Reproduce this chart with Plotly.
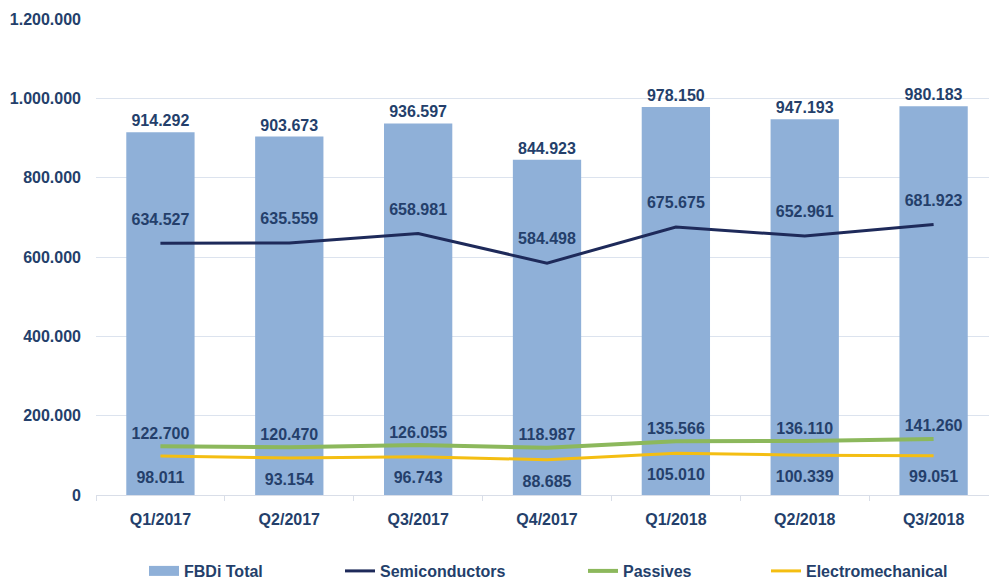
import plotly.graph_objects as go

quarters = ["Q1/2017", "Q2/2017", "Q3/2017", "Q4/2017", "Q1/2018", "Q2/2018", "Q3/2018"]
fbdi_total = [914292, 903673, 936597, 844923, 978150, 947193, 980183]
semiconductors = [634527, 635559, 658981, 584498, 675675, 652961, 681923]
passives = [122700, 120470, 126055, 118987, 135566, 136110, 141260]
electromechanical = [98011, 93154, 96743, 88685, 105010, 100339, 99051]
y_ticks = [0, 200000, 400000, 600000, 800000, 1000000, 1200000]

TXT = "#243F6B"
FONT = "Liberation Sans, Arial, sans-serif"
BAR = "#8FB0D8"
SEMI = "#1E2A5A"
PAS = "#8CB85C"
ELE = "#F4BE12"
tf = dict(family=FONT, size=16, color=TXT, weight="bold")

fig = go.Figure()
fig.add_trace(go.Bar(
    x=quarters, y=fbdi_total, name="FBDi Total", marker=dict(color=BAR, line=dict(width=0)),
    width=0.53, texttemplate="%{y:,.0f}", textposition="outside",
    textfont=tf, cliponaxis=False, showlegend=False, legendgroup="fbdi"))
fig.add_trace(go.Scatter(
    x=[None], y=[None], mode="lines", name="FBDi Total", legendgroup="fbdi",
    line=dict(color=BAR, width=10), legend="legend"))

# lines
fig.add_trace(go.Scatter(x=quarters, y=semiconductors, name="Semiconductors", mode="lines",
                         line=dict(color=SEMI, width=3), legend="legend2", legendgroup="semi"))
fig.add_trace(go.Scatter(x=quarters, y=passives, name="Passives", mode="lines",
                         line=dict(color=PAS, width=4), legend="legend3", legendgroup="pas"))
fig.add_trace(go.Scatter(x=quarters, y=electromechanical, name="Electromechanical", mode="lines",
                         line=dict(color=ELE, width=3), legend="legend4", legendgroup="ele"))

# value labels for the lines
for vals, pos, msize, grp in [(semiconductors, "top center", 22, "semi"),
                              (passives, "top center", 4, "pas"),
                              (electromechanical, "bottom center", 22, "ele")]:
    fig.add_trace(go.Scatter(
        x=quarters, y=vals, mode="markers+text", marker=dict(size=msize, opacity=0),
        texttemplate="%{y:,.0f}", textposition=pos, textfont=tf,
        showlegend=False, legendgroup=grp, hoverinfo="skip"))

leg_common = dict(orientation="h", xref="container", yref="container", yanchor="middle",
                  y=1 - 571 / 581, xanchor="left", bgcolor="rgba(0,0,0,0)",
                  font=dict(family=FONT, size=16, color=TXT, weight="bold"), borderwidth=0)

fig.update_layout(
    width=989, height=581,
    margin=dict(l=96, r=0, t=19, b=86, autoexpand=False),
    paper_bgcolor="white", plot_bgcolor="white",
    separators=",.",
    font=dict(family=FONT, size=16, color=TXT),
    legend=dict(x=(186 - 42) / 989, **leg_common),
    legend2=dict(x=(382 - 42) / 989, **leg_common),
    legend3=dict(x=(625 - 42) / 989, **leg_common),
    legend4=dict(x=(808 - 42) / 989, **leg_common),
    xaxis=dict(type="category", range=[-0.5, 6.43], showgrid=False,
               showline=True, linecolor="#D9DEE8", linewidth=1,
               ticks="outside", tickson="boundaries", ticklen=5, tickcolor="#D9DEE8",
               tickfont=dict(family=FONT, size=16, color=TXT, weight="bold"), ticklabelstandoff=10),
    yaxis=dict(range=[0, 1200000], tickvals=y_ticks, tickformat=",.0f",
               showgrid=True, gridcolor="#DCE3EE", gridwidth=1, zeroline=False,
               showline=False, tickfont=dict(family=FONT, size=16, color=TXT, weight="bold"),
               ticklabelstandoff=14),
)

fig.write_html("out.html", config={"displayModeBar": False},
               post_script="document.body.style.margin='0';")
